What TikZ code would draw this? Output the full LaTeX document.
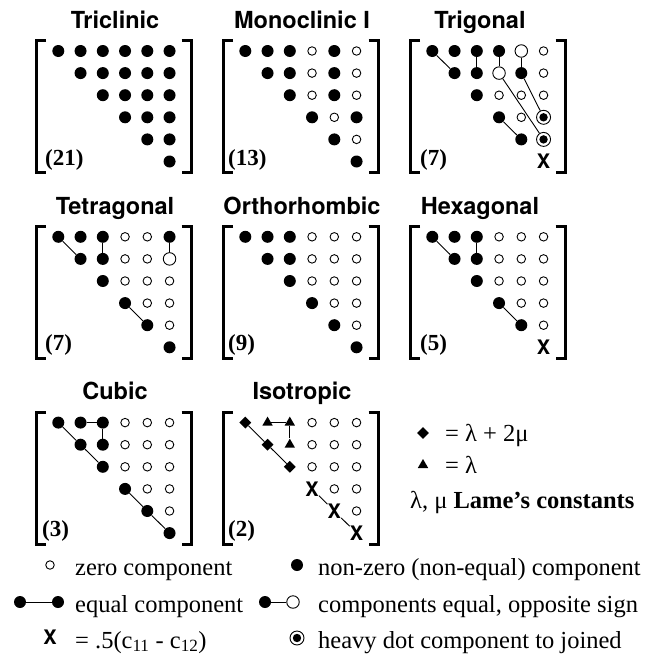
\documentclass[tikz,border=0pt]{standalone}
\usepackage{fontspec}
\setmainfont{Liberation Serif}
\newfontfamily\hsans{TeX Gyre Heros}
\usetikzlibrary{shapes.geometric}
\def\txtxmk{X}
\newcommand{\fillmat}[2]{%
  \foreach \rw [count=\ii] in {#2} {%
    \foreach \st [count=\kk] in \rw {%
      \pgfmathtruncatemacro{\jj}{\ii+\kk-1}%
      \node[\st] (#1-\ii-\jj) at ({58.3+22.25*(\jj-1)},{51+22.1*(\ii-1)}) {\csname txt\st\endcsname};
    }%
  }%
}
\newcommand{\brackets}{%
  \draw[brk] (46,40.5) -- (36.7,40.5) -- (36.7,172.5) -- (46,172.5);
  \draw[brk] (181.7,40.5) -- (191,40.5) -- (191,172.5) -- (181.7,172.5);
}
\begin{document}
\begin{tikzpicture}[x=1pt,y=-1pt,
  fdot/.style={circle,fill=black,inner sep=0pt,minimum size=12pt},
  odot/.style={circle,draw=black,fill=white,line width=0.9pt,inner sep=0pt,minimum size=8.5pt},
  bigo/.style={circle,draw=black,fill=white,line width=0.9pt,inner sep=0pt,minimum size=12.5pt},
  bull/.style={circle,draw=black,fill=white,line width=0.9pt,inner sep=0pt,minimum size=14pt,
     path picture={\fill[black] (path picture bounding box.center) circle (4.2pt);}},
  dmd/.style={diamond,fill=black,inner sep=0pt,minimum size=12pt},
  tri/.style={regular polygon,regular polygon sides=3,fill=black,inner sep=0pt,minimum size=12pt},
  xmk/.style={inner sep=0pt,font=\hsans\bfseries\fontsize{20}{20}\selectfont},
  conn/.style={line width=0.9pt},
  brk/.style={line width=3pt,line join=miter,line cap=butt},
  ttl/.style={font=\hsans\bfseries\fontsize{23.5}{24}\selectfont,anchor=base,inner sep=0pt},
  cnt/.style={font=\bfseries\fontsize{23}{23}\selectfont,anchor=base west,inner sep=0pt},
  leg/.style={font=\fontsize{24.5}{25}\selectfont,anchor=base west,inner sep=0pt}
]
\useasboundingbox (0,0) rectangle (646,656);

% Triclinic
\begin{scope}
  \brackets
  \node[ttl] (T-tc) at (115,28.3) {Triclinic};
  \node[cnt] (C-tc) at (45,165) {(21)};
  \fillmat{tc}{{fdot,fdot,fdot,fdot,fdot,fdot},{fdot,fdot,fdot,fdot,fdot},{fdot,fdot,fdot,fdot},{fdot,fdot,fdot},{fdot,fdot},{fdot}}
\end{scope}

% Monoclinic I
\begin{scope}[shift={(187,0)}]
  \brackets
  \node[ttl] (T-mc) at (115,28.3) {Monoclinic I};
  \node[cnt] (C-mc) at (41,165) {(13)};
  \fillmat{mc}{{fdot,fdot,fdot,odot,fdot,odot},{fdot,fdot,odot,fdot,odot},{fdot,odot,fdot,odot},{fdot,odot,fdot},{fdot,odot},{fdot}}
\end{scope}

% Trigonal
\begin{scope}[shift={(374,0)}]
  \brackets
  \node[ttl] (T-tg) at (106,28.3) {Trigonal};
  \node[cnt] (C-tg) at (46,165) {(7)};
  \fillmat{tg}{{fdot,fdot,fdot,fdot,bigo,odot},{fdot,fdot,bigo,fdot,odot},{fdot,odot,odot,odot},{fdot,odot,bull},{fdot,bull},{xmk}}
\end{scope}
\draw[conn] (tg-1-1) -- (tg-2-2);
\draw[conn] (tg-1-3) -- (tg-2-3);
\draw[conn] (tg-1-4) -- (tg-2-4);
\draw[conn] (tg-1-5) -- (tg-2-5);
\draw[conn] (tg-2-4) -- (tg-5-6);
\draw[conn] (tg-2-5) -- (tg-4-6);
\draw[conn] (tg-4-4) -- (tg-5-5);

% Tetragonal
\begin{scope}[shift={(0,185.8)}]
  \brackets
  \node[ttl] (T-tt) at (115,28.3) {Tetragonal};
  \node[cnt] (C-tt) at (45,165) {(7)};
  \fillmat{tt}{{fdot,fdot,fdot,odot,odot,fdot},{fdot,fdot,odot,odot,bigo},{fdot,odot,odot,odot},{fdot,odot,odot},{fdot,odot},{fdot}}
\end{scope}
\draw[conn] (tt-1-1) -- (tt-2-2);
\draw[conn] (tt-1-3) -- (tt-2-3);
\draw[conn] (tt-1-6) -- (tt-2-6);
\draw[conn] (tt-4-4) -- (tt-5-5);

% Orthorhombic
\begin{scope}[shift={(187,185.8)}]
  \brackets
  \node[ttl] (T-or) at (115,28.3) {Orthorhombic};
  \node[cnt] (C-or) at (41,165) {(9)};
  \fillmat{or}{{fdot,fdot,fdot,odot,odot,odot},{fdot,fdot,odot,odot,odot},{fdot,odot,odot,odot},{fdot,odot,odot},{fdot,odot},{fdot}}
\end{scope}

% Hexagonal
\begin{scope}[shift={(374,185.8)}]
  \brackets
  \node[ttl] (T-hx) at (106,28.3) {Hexagonal};
  \node[cnt] (C-hx) at (46,165) {(5)};
  \fillmat{hx}{{fdot,fdot,fdot,odot,odot,odot},{fdot,fdot,odot,odot,odot},{fdot,odot,odot,odot},{fdot,odot,odot},{fdot,odot},{xmk}}
\end{scope}
\draw[conn] (hx-1-1) -- (hx-2-2);
\draw[conn] (hx-1-3) -- (hx-2-3);
\draw[conn] (hx-4-4) -- (hx-5-5);

% Cubic
\begin{scope}[shift={(0,371.6)}]
  \brackets
  \node[ttl] (T-cu) at (115,28.3) {Cubic};
  \node[cnt] (C-cu) at (42,165) {(3)};
  \fillmat{cu}{{fdot,fdot,fdot,odot,odot,odot},{fdot,fdot,odot,odot,odot},{fdot,odot,odot,odot},{fdot,odot,odot},{fdot,odot},{fdot}}
\end{scope}
\draw[conn] (cu-1-1) -- (cu-2-2) -- (cu-3-3);
\draw[conn] (cu-1-2) -- (cu-1-3) -- (cu-2-3);
\draw[conn] (cu-4-4) -- (cu-5-5) -- (cu-6-6);

% Isotropic
\begin{scope}[shift={(187,371.6)}]
  \brackets
  \node[ttl] (T-is) at (115,28.3) {Isotropic};
  \node[cnt] (C-is) at (41,165) {(2)};
  \fillmat{is}{{dmd,tri,tri,odot,odot,odot},{dmd,tri,odot,odot,odot},{dmd,odot,odot,odot},{xmk,odot,odot},{xmk,odot},{xmk}}
\end{scope}
\draw[conn] (is-1-1) -- (is-2-2) -- (is-3-3);
\draw[conn] (is-1-2) -- (is-1-3) -- (is-2-3);
\draw[conn] (is-4-4) -- (is-5-5) -- (is-6-6);

% Lame legend
\node[dmd] (k1) at (423,433) {};
\node[leg] (k1t) at (445,441.7) {= λ + 2μ};
\node[tri] (k2) at (423,465) {};
\node[leg] (k2t) at (445,473) {= λ};
\node[leg] (k3) at (410,508) {λ, μ \textbf{Lame’s constants}};

% bottom legend
\node[odot] (l0) at (50,565) {};
\node[leg] (t0) at (75,575) {zero component};
\node[fdot] (l1) at (297,565) {};
\node[leg] (t1) at (318,575) {non-zero (non-equal) component};
\node[fdot] (l2a) at (20,602) {};
\node[fdot] (l2b) at (58,602) {};
\draw[conn] (l2a) -- (l2b);
\node[leg] (t2) at (75,612) {equal component};
\node[fdot] (l3a) at (265,602) {};
\node[bigo] (l3b) at (293,602) {};
\draw[conn] (l3a) -- (l3b);
\node[leg] (t3) at (318,612) {components equal, opposite sign};
\node[xmk] (l4) at (50,637) {X};
\node[leg] (t4) at (75,648) {= .5(c\textsubscript{11} - c\textsubscript{12})};
\node[bull] (l5) at (297,638) {};
\node[leg] (t5) at (318,648) {heavy dot component to joined};
\end{tikzpicture}
\end{document}
